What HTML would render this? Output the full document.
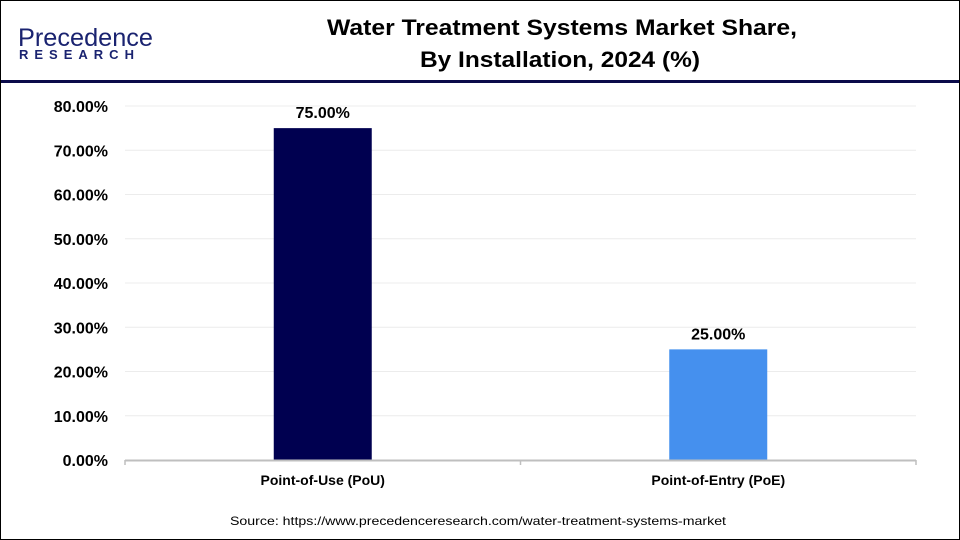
<!DOCTYPE html>
<html><head><meta charset="utf-8"><style>
body{margin:0;width:960px;height:540px;overflow:hidden;background:#fff;font-family:"Liberation Sans",Arial,sans-serif}
#frame{position:absolute;left:0;top:0;width:958px;height:538px;border:1px solid #000;}
</style></head><body>
<div id="frame"></div>
<svg width="960" height="540" style="position:absolute;left:0;top:0">
<g>
<text x="18" y="46" font-size="25" fill="#1a2370" textLength="135" lengthAdjust="spacingAndGlyphs">Precedence</text>
<text x="19" y="59" font-size="13" font-weight="bold" fill="#1a2370" letter-spacing="6">RESEARCH</text>
</g>
<text x="562" y="35" text-anchor="middle" font-size="22" font-weight="bold" fill="#000" textLength="470" lengthAdjust="spacingAndGlyphs">Water Treatment Systems Market Share,</text>
<text x="560" y="67" text-anchor="middle" font-size="22" font-weight="bold" fill="#000" textLength="280" lengthAdjust="spacingAndGlyphs">By Installation, 2024 (%)</text>
<rect x="1" y="80" width="958" height="3" fill="#0a0a4a"/>
<g id="grid"></g><g id="yt"></g><g id="bars"></g><g id="xt"></g>
<line x1="125" y1="460.5" x2="916" y2="460.5" stroke="#bfbfbf" stroke-width="2"/>
<text x="478" y="525" text-anchor="middle" font-size="12" fill="#000" textLength="496" lengthAdjust="spacingAndGlyphs">Source: https://www.precedenceresearch.com/water-treatment-systems-market</text>
</svg>
<script>
const categories=["Point-of-Use (PoU)","Point-of-Entry (PoE)"];
const values=[75,25];
const labels=["75.00%","25.00%"];
const colors=["#000050","#4590ee"];
const yTicks=[0,10,20,30,40,50,60,70,80];
const NS="http://www.w3.org/2000/svg";
const x0=125,x1=916,yb=460,yt=106,ymax=80;
const y=v=>yb-(v/ymax)*(yb-yt);
const band=(x1-x0)/categories.length;
const xc=i=>x0+band*(i+0.5);
function mk(t,a,p,txt){const e=document.createElementNS(NS,t);for(const k in a)e.setAttribute(k,a[k]);if(txt!=null)e.textContent=txt;document.getElementById(p).appendChild(e);return e;}
yTicks.forEach(v=>{
 if(v>0){const g=mk("line",{x1:x0,x2:x1,y1:y(v),y2:y(v),stroke:"#ececec","stroke-width":1},"grid");
 
 }
 const t=mk("text",{x:108,y:y(v)+6,"text-anchor":"end","font-size":16,"font-weight":"bold",fill:"#000"},"yt",v.toFixed(2)+"%");
 
 
});
[x0,(x0+x1)/2,x1].forEach(xx=>{const l=mk("line",{x1:xx,x2:xx,y1:yb,y2:yb+5,stroke:"#bfbfbf","stroke-width":1.5},"xt");
 
 });
values.forEach((v,i)=>{
 const bw=98;
 const r=mk("rect",{x:xc(i)-bw/2,y:y(v),width:bw,height:yb-y(v),fill:colors[i]},"bars");
 
 
 const t=mk("text",{x:xc(i),y:y(v)-10,"text-anchor":"middle","font-size":16,"font-weight":"bold",fill:"#000"},"bars",labels[i]);
 
 
 const c=mk("text",{x:xc(i),y:485,"text-anchor":"middle","font-size":14,"font-weight":"bold",fill:"#000"},"xt",categories[i]);
 
 
});
</script>
</body></html>
